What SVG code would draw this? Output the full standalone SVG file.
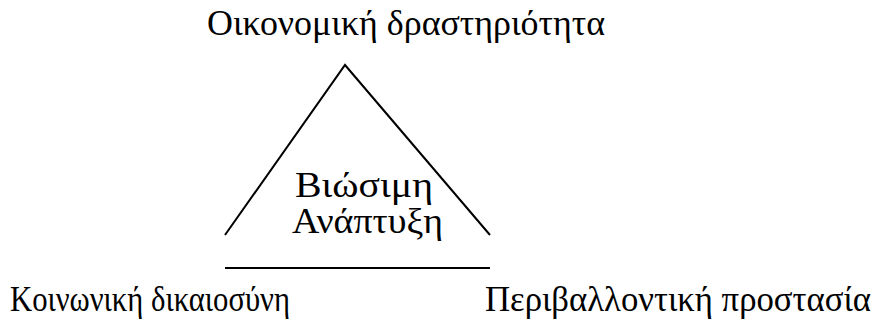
<svg xmlns="http://www.w3.org/2000/svg" width="880" height="322" viewBox="0 0 880 322">
<style>
text{font-family:"Liberation Serif","DejaVu Serif",serif;font-size:35px;fill:#000}
.ln{stroke:#000;stroke-width:2;fill:none}
</style>
<rect width="880" height="322" fill="#fff"/>
<g id="connectors">
<polyline class="ln" points="225,235 345,65 490,235"/>
<line class="ln" x1="225" y1="268" x2="490" y2="268"/>
</g>
<g id="node-economy"><text x="207" y="35" textLength="398" lengthAdjust="spacingAndGlyphs">Οικονομική δραστηριότητα</text></g>
<g id="node-center"><text x="295" y="197" textLength="138" lengthAdjust="spacingAndGlyphs">Βιώσιμη</text><text x="292" y="233" textLength="151" lengthAdjust="spacingAndGlyphs">Ανάπτυξη</text></g>
<g id="node-social"><text x="10" y="311" textLength="280" lengthAdjust="spacingAndGlyphs">Κοινωνική δικαιοσύνη</text></g>
<g id="node-environment"><text x="485" y="311" textLength="386" lengthAdjust="spacingAndGlyphs">Περιβαλλοντική προστασία</text></g>
</svg>
